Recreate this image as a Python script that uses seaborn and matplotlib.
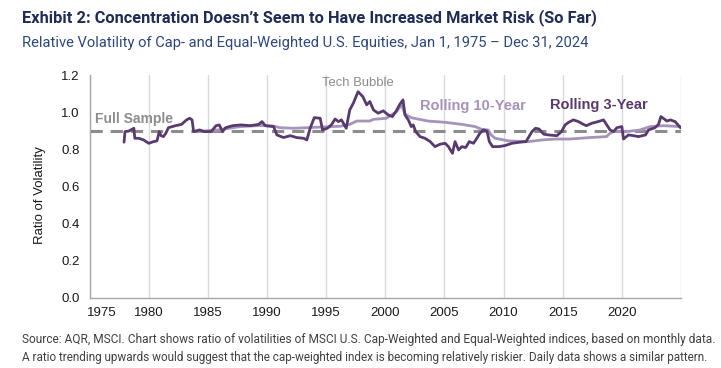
import matplotlib
matplotlib.use("Agg")
import matplotlib.pyplot as plt
import matplotlib.transforms as mtransforms
import seaborn as sns
from matplotlib import font_manager

# Rolling 3-year ratio of volatilities
years_3y = [1977.92, 1978.0, 1978.33, 1978.75, 1978.83, 1979.17, 1979.58, 1980.0, 1980.42, 1980.7,
            1980.9, 1981.05, 1981.25, 1981.45, 1981.67, 1982.0, 1982.28, 1982.78, 1983.2, 1983.47,
            1983.67, 1983.8, 1984.3, 1984.72, 1985.28, 1985.7, 1985.97, 1986.25, 1986.5, 1987.1,
            1987.8, 1988.6, 1989.3, 1989.58, 1989.86, 1990.56, 1990.84, 1991.4, 1991.97, 1992.5,
            1993.1, 1993.37, 1993.65, 1994.0, 1994.5, 1994.7, 1995.1, 1995.48, 1995.76, 1996.04,
            1996.3, 1996.7, 1997.0, 1997.3, 1997.7, 1998.1, 1998.43, 1998.7, 1999.0, 1999.4,
            1999.83, 2000.25, 2000.6, 2000.9, 2001.2, 2001.5, 2001.67, 2001.95, 2002.2, 2002.37,
            2002.57, 2002.94, 2003.36, 2003.8, 2004.2, 2004.63, 2005.06, 2005.34, 2005.68, 2005.9,
            2006.2, 2006.47, 2006.8, 2007.1, 2007.46, 2007.74, 2008.0, 2008.3, 2008.6, 2008.8,
            2009.07, 2009.6, 2010.14, 2010.7, 2011.4, 2011.9, 2012.1, 2012.4, 2012.7, 2013.0,
            2013.4, 2013.8, 2014.5, 2014.9, 2015.2, 2015.5, 2015.9, 2016.33, 2016.75, 2017.0,
            2017.46, 2018.0, 2018.45, 2018.73, 2019.0, 2019.3, 2019.58, 2020.0, 2020.14, 2020.56,
            2021.0, 2021.4, 2022.0, 2022.26, 2022.8, 2023.1, 2023.3, 2023.5, 2023.8, 2024.1,
            2024.5, 2024.8, 2024.95]
ratio_3y = [0.838, 0.895, 0.898, 0.913, 0.859, 0.859, 0.850, 0.832, 0.841, 0.845,
            0.895, 0.873, 0.868, 0.886, 0.916, 0.922, 0.927, 0.934, 0.958, 0.967,
            0.958, 0.895, 0.904, 0.895, 0.895, 0.927, 0.931, 0.895, 0.916, 0.927,
            0.931, 0.927, 0.934, 0.949, 0.927, 0.922, 0.877, 0.863, 0.873, 0.863,
            0.859, 0.850, 0.913, 0.970, 0.967, 0.904, 0.913, 0.934, 0.963, 0.949,
            0.958, 0.913, 1.012, 1.048, 1.110, 1.084, 1.039, 1.057, 1.012, 0.994,
            1.007, 0.985, 0.976, 1.003, 1.039, 1.066, 0.985, 0.958, 0.922, 0.931,
            0.895, 0.868, 0.859, 0.841, 0.814, 0.827, 0.832, 0.814, 0.778, 0.841,
            0.796, 0.814, 0.809, 0.841, 0.832, 0.859, 0.886, 0.904, 0.898, 0.841,
            0.814, 0.814, 0.820, 0.832, 0.838, 0.841, 0.863, 0.895, 0.913, 0.909,
            0.881, 0.877, 0.873, 0.895, 0.931, 0.945, 0.958, 0.949, 0.934, 0.927,
            0.940, 0.949, 0.958, 0.931, 0.904, 0.895, 0.916, 0.922, 0.855, 0.877,
            0.873, 0.868, 0.877, 0.904, 0.916, 0.934, 0.976, 0.967, 0.952, 0.958,
            0.949, 0.927, 0.916]

# Rolling 10-year ratio of volatilities
years_10y = [1984.2, 1985.0, 1986.0, 1987.0, 1987.75, 1988.6, 1989.5, 1990.56, 1991.1, 1992.25,
             1993.37, 1994.8, 1996.2, 1997.0, 1997.6, 1998.7, 1999.0, 2000.1, 2000.96, 2001.2,
             2001.4, 2001.67, 2002.2, 2003.6, 2005.06, 2006.47, 2007.6, 2008.16, 2008.7, 2008.95,
             2009.3, 2010.4, 2012.1, 2013.25, 2014.4, 2015.6, 2017.3, 2018.7, 2019.0, 2019.3,
             2020.4, 2021.55, 2022.4, 2023.5, 2024.95]
ratio_10y = [0.895, 0.900, 0.905, 0.915, 0.922, 0.925, 0.928, 0.925, 0.916, 0.913,
             0.916, 0.920, 0.924, 0.934, 0.952, 0.952, 0.961, 0.967, 1.003, 1.025,
             1.035, 0.989, 0.970, 0.952, 0.945, 0.934, 0.922, 0.907, 0.904, 0.877,
             0.859, 0.845, 0.841, 0.850, 0.855, 0.855, 0.863, 0.868, 0.886, 0.895,
             0.895, 0.904, 0.922, 0.927, 0.922]

full_sample = 0.9
x_ticks = [1975, 1980, 1985, 1990, 1995, 2000, 2005, 2010, 2015, 2020, 2025]
x_labels = ["1975", "1980", "1985", "1990", "1995", "2000", "2005", "2010", "2015", "2020", ""]
y_ticks = [0.0, 0.2, 0.4, 0.6, 0.8, 1.0, 1.2]

title = "Exhibit 2: Concentration Doesn\u2019t Seem to Have Increased Market Risk (So Far)"
subtitle = "Relative Volatility of Cap- and Equal-Weighted U.S. Equities, Jan 1, 1975 \u2013 Dec 31, 2024"
footer = ["Source: AQR, MSCI. Chart shows ratio of volatilities of MSCI U.S. Cap-Weighted and Equal-Weighted indices, based on monthly data.",
          "A ratio trending upwards would suggest that the cap-weighted index is becoming relatively riskier. Daily data shows a similar pattern."]

DARK = "#583a6e"
LIGHT = "#a593bb"
GREY = "#8c8c8c"
NAVY = "#1f2c55"
BLUE = "#2c4680"

installed = {f.name for f in font_manager.fontManager.ttflist}
narrow = "Liberation Sans Narrow" if "Liberation Sans Narrow" in installed else "Roboto"

sns.set_style("white")
plt.rcParams["font.family"] = ["Liberation Sans", "DejaVu Sans"]

fig = plt.figure(figsize=(7.21, 3.68), dpi=100)
ax = fig.add_axes([89.5 / 721, 1 - 297.7 / 368, 591.5 / 721, 222.7 / 368])

ax.axhline(full_sample, color=GREY, lw=2.2, dashes=(4, 2.6), zorder=1)
sns.lineplot(x=years_10y, y=ratio_10y, ax=ax, color=LIGHT, lw=2.0, estimator=None, sort=False, zorder=2)
sns.lineplot(x=years_3y, y=ratio_3y, ax=ax, color=DARK, lw=2.0, estimator=None, sort=False, zorder=3)

ax.set_xlim(1975, 2025)
ax.set_ylim(0, 1.2)
ax.set_xticks(x_ticks)
ax.set_xticklabels(x_labels)
ax.set_yticks(y_ticks)
ax.set_yticklabels([f"{v:.1f}" for v in y_ticks])
ax.grid(axis="x", color="#d9d9d9", lw=1)
ax.grid(axis="y", visible=False)
for side in ["top", "right"]:
    ax.spines[side].set_visible(False)
for side in ["left", "bottom"]:
    ax.spines[side].set_color("#a6a6a6")
    ax.spines[side].set_linewidth(1.0)
ax.tick_params(axis="both", direction="out", length=4, width=1, color="#a6a6a6",
               labelsize=9.5, labelcolor="#1a1a1a", pad=3)
ax.set_xlabel("")
ax.set_ylabel("Ratio of Volatility", fontsize=9.5, color="#1a1a1a")
ax.yaxis.set_label_coords(-0.074, 0.46)

# the first year label sits a little right of its tick, as in the original
first = ax.get_xticklabels()[0]
first.set_transform(first.get_transform() + mtransforms.ScaledTranslation(0.12, 0, fig.dpi_scale_trans))

ax.text(1975.46, 0.962, "Full Sample", color=GREY, fontsize=10, fontweight="bold", va="center")
ax.text(1994.65, 1.159, "Tech Bubble", color=GREY, fontsize=9.4, va="center")
ax.text(2002.94, 1.033, "Rolling 10-Year", color=LIGHT, fontsize=10.5, fontweight="bold", va="center")
ax.text(2013.93, 1.039, "Rolling 3-Year", color=DARK, fontsize=10.5, fontweight="bold", va="center")

t1 = fig.text(22 / 721, 1 - 18 / 368, title, family=narrow, fontweight="bold", fontsize=12,
              color=NAVY, va="center")
t2 = fig.text(22 / 721, 1 - 43 / 368, subtitle, family=narrow, fontsize=11, color=BLUE, va="center")
f1 = fig.text(22 / 721, 1 - 340 / 368, footer[0], family=narrow, fontsize=8.5, color="#404040", va="center")
f2 = fig.text(22 / 721, 1 - 357 / 368, footer[1], family=narrow, fontsize=8.5, color="#404040", va="center")

# scale the header/footer text to the widths seen in the reference
renderer = fig.canvas.get_renderer()
for t, w in [(t1, 575), (t2, 566), (f1, 684), (f2, 684)]:
    cur = t.get_window_extent(renderer).width
    t.set_fontsize(t.get_fontsize() * w / cur)

fig.savefig("out.png", dpi=100)
